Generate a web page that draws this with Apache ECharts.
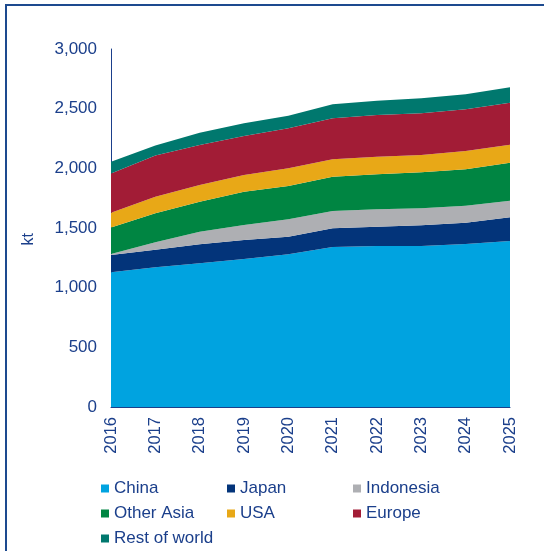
<!DOCTYPE html>
<html><head><meta charset="utf-8">
<script src="https://cdn.jsdelivr.net/npm/echarts@6/dist/echarts.min.js"></script>
<style>html,body{margin:0;padding:0;background:#fff}#c{width:544px;height:551px}</style>
</head><body><div id="c"></div>
<script>
const years = ['2016','2017','2018','2019','2020','2021','2022','2023','2024','2025'];
const china = [1129,1171,1204,1240,1280,1340,1349,1350,1365,1391];
const japan = [145,147,159,159,147,157,162,173,180,199];
const indonesia = [8,62,106,126,146,145,146,142,142,139];
const otherAsia = [223,243,251,279,279,288,293,302,305,318];
const usa = [123,139,140,140,148,146,148,145,153,151];
const europe = [329,345,336,327,335,343,349,349,350,352];
const restOfWorld = [98,85,103,106,105,118,120,126,125,129];
const yTicks = [0,500,1000,1500,2000,2500,3000];

const navy = '#1B3F8B';
const font = 'Liberation Sans, Arial, sans-serif';
const seriesDefs = [
  ['China', china, '#00A3E0'],
  ['Japan', japan, '#03347A'],
  ['Indonesia', indonesia, '#AEAFB3'],
  ['Other Asia', otherAsia, '#008542'],
  ['USA', usa, '#E8A817'],
  ['Europe', europe, '#A21C36'],
  ['Rest of world', restOfWorld, '#00786E']
];
const chart = echarts.init(document.getElementById('c'));
chart.setOption({
  animation: false,
  textStyle: {fontFamily: font},
  grid: {left: 111, right: 34, top: 49, bottom: 144},
  xAxis: {
    type: 'category', data: years, boundaryGap: false,
    axisLine: {lineStyle: {color: navy, width: 1}},
    axisTick: {show: false},
    axisLabel: {rotate: 90, color: navy, fontSize: 16.5, margin: 10, fontFamily: font}
  },
  yAxis: {
    type: 'value', min: yTicks[0], max: yTicks[yTicks.length-1], interval: 500,
    axisLine: {show: true, lineStyle: {color: navy, width: 1}},
    axisTick: {show: false},
    splitLine: {show: false},
    axisLabel: {color: navy, fontSize: 17, margin: 14, fontFamily: font,
      formatter: v => v.toLocaleString('en-US')}
  },
  legend: {
    left: 96, top: 475, width: 400,
    itemWidth: 8, itemHeight: 8, itemGap: 8, icon: 'rect',
    textStyle: {color: navy, fontSize: 17, width: 105, lineHeight: 16.5, fontFamily: font},
    data: seriesDefs.map(d => d[0])
  },
  graphic: [
    {type: 'rect', silent: true, shape: {x: 6, y: 5, width: 700, height: 700},
     style: {fill: 'none', stroke: '#1D4A8F', lineWidth: 2}},
    {type: 'text', left: 21, top: 233, rotation: Math.PI/2,
     style: {text: 'kt', fill: navy, font: '16px ' + font}}
  ],
  series: seriesDefs.map(d => ({
    name: d[0], type: 'line', stack: 'total', data: d[1],
    symbol: 'none', lineStyle: {width: 0}, color: d[2],
    areaStyle: {color: d[2], opacity: 1}
  }))
});
</script></body></html>
